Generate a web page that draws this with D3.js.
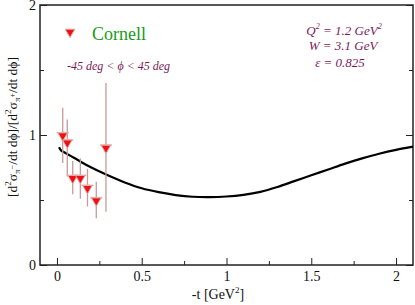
<!DOCTYPE html>
<html>
<head>
<meta charset="utf-8">
<script src="https://cdn.jsdelivr.net/npm/d3@7"></script>
<style>
  body { margin: 0; background: #fff; }
  svg text { font-family: "Liberation Serif", "Times New Roman", "DejaVu Serif", serif; }
</style>
</head>
<body>
<div id="chart"></div>
<script>
// Cornell data points (-t, ratio, error bar low, error bar high)
const pointT = [0.034, 0.061, 0.093, 0.138, 0.18, 0.232, 0.289];
const pointV = [0.995, 0.94, 0.667, 0.667, 0.59, 0.495, 0.90];
const pointLo = [0.785, 0.68, 0.545, 0.51, 0.45, 0.36, 0.41];
const pointHi = [1.21, 1.12, 0.80, 0.82, 0.74, 0.64, 1.40];

// model curve
const curveT = [0.012, 0.025, 0.05, 0.1, 0.15, 0.2, 0.3, 0.4, 0.5, 0.6, 0.7, 0.8, 0.9, 1.0,
                1.1, 1.2, 1.3, 1.4, 1.5, 1.6, 1.7, 1.8, 1.9, 2.0, 2.1];
const curveV = [0.905, 0.88, 0.862, 0.825, 0.787, 0.752, 0.69, 0.635, 0.59, 0.56, 0.538, 0.525, 0.522, 0.527,
                0.54, 0.563, 0.6, 0.645, 0.69, 0.735, 0.78, 0.82, 0.856, 0.886, 0.91];

const xMajor = [0, 0.5, 1, 1.5, 2];
const xMinor = [0.25, 0.75, 1.25, 1.75];
const yMajor = [0, 1, 2];
const yMinor = [0.5, 1.5];

const width = 415, height = 305;
const margin = { top: 5, right: 2, bottom: 40, left: 40 };
const w = width - margin.left - margin.right;
const h = height - margin.top - margin.bottom;

const serif = '"Liberation Serif", "Times New Roman", "DejaVu Serif", serif';

const svg = d3.select('#chart')
  .append('svg')
    .attr('width', width)
    .attr('height', height);

const g = svg.append('g')
    .attr('transform', `translate(${margin.left},${margin.top})`);

const x = d3.scaleLinear().domain([-0.1, 2.1]).range([0, w]);
const y = d3.scaleLinear().domain([0, 2]).range([h, 0]);

const axisColor = '#222';

// ticks point inward; left, right and bottom only
g.append('g')
    .attr('transform', `translate(0,${h})`)
    .call(d3.axisBottom(x).tickValues(xMajor).tickSize(-7).tickPadding(6).tickFormat(d => d))
    .call(a => a.select('.domain').remove());
g.append('g')
    .attr('transform', `translate(0,${h})`)
    .call(d3.axisBottom(x).tickValues(xMinor).tickSize(-4).tickFormat(''))
    .call(a => a.select('.domain').remove());

g.append('g')
    .call(d3.axisLeft(y).tickValues(yMajor).tickSize(-7).tickPadding(4).tickFormat(d => d))
    .call(a => a.select('.domain').remove());
g.append('g')
    .call(d3.axisLeft(y).tickValues(yMinor).tickSize(-4).tickFormat(''))
    .call(a => a.select('.domain').remove());

g.append('g')
    .attr('transform', `translate(${w},0)`)
    .call(d3.axisRight(y).tickValues(yMajor).tickSize(-7).tickFormat(''))
    .call(a => a.select('.domain').remove());
g.append('g')
    .attr('transform', `translate(${w},0)`)
    .call(d3.axisRight(y).tickValues(yMinor).tickSize(-4).tickFormat(''))
    .call(a => a.select('.domain').remove());

g.selectAll('g').attr('font-family', serif);
g.selectAll('.tick line').attr('stroke', axisColor).attr('stroke-width', 1);
g.selectAll('.tick text')
    .attr('font-family', serif)
    .attr('font-size', 14)
    .attr('fill', '#111');

// frame
g.append('rect')
    .attr('width', w)
    .attr('height', h)
    .attr('fill', 'none')
    .attr('stroke', axisColor)
    .attr('stroke-width', 1.5);

// model curve
const line = d3.line()
    .x(d => x(d[0]))
    .y(d => y(d[1]))
    .curve(d3.curveCatmullRom);

g.append('path')
    .datum(curveT.map((t, i) => [t, curveV[i]]))
    .attr('d', line)
    .attr('fill', 'none')
    .attr('stroke', '#000')
    .attr('stroke-width', 2.2);

// error bars + markers
const pts = pointT.map((t, i) => ({ t, v: pointV[i], lo: pointLo[i], hi: pointHi[i] }));
const barColor = '#c99a9a';

g.selectAll('.err')
  .data(pts)
  .enter()
  .append('line')
    .attr('x1', d => x(d.t))
    .attr('x2', d => x(d.t))
    .attr('y1', d => y(d.lo))
    .attr('y2', d => y(d.hi))
    .attr('stroke', barColor)
    .attr('stroke-width', 1.3);

const tri = d3.symbol().type(d3.symbolTriangle).size(40);

g.selectAll('.cap')
  .data(pts)
  .enter()
  .append('line')
    .attr('x1', d => x(d.t) - 6)
    .attr('x2', d => x(d.t) + 6)
    .attr('y1', d => y(d.v) - 3)
    .attr('y2', d => y(d.v) - 3)
    .attr('stroke', '#e0b0b0')
    .attr('stroke-width', 1.5);

g.selectAll('.pt')
  .data(pts)
  .enter()
  .append('path')
    .attr('d', tri)
    .attr('transform', d => `translate(${x(d.t)},${y(d.v)}) rotate(180)`)
    .attr('fill', '#ee1111')
    .attr('stroke', '#e8a8a8')
    .attr('stroke-width', 1);

// legend
svg.append('path')
    .attr('d', tri)
    .attr('transform', 'translate(70,32) rotate(180)')
    .attr('fill', '#ee1111')
    .attr('stroke', '#e8a8a8');

svg.append('text')
    .attr('x', 92)
    .attr('y', 40)
    .attr('fill', '#1a9a1a')
    .attr('font-family', serif)
    .attr('font-size', 18)
    .text('Cornell');

const purple = '#7a1a5c';

svg.append('text')
    .attr('x', 67)
    .attr('y', 70)
    .attr('fill', purple)
    .attr('font-family', serif)
    .attr('font-size', 12)
    .attr('font-style', 'italic')
    .text('-45 deg < \u03D5 < 45 deg');

// kinematics
const kin = svg.append('g')
    .attr('fill', purple)
    .attr('font-family', serif)
    .attr('font-size', 13)
    .attr('font-style', 'italic')
    .attr('text-anchor', 'middle');

const q2 = kin.append('text').attr('x', 344).attr('y', 35);
q2.append('tspan').text('Q');
q2.append('tspan').attr('dy', -6).attr('font-size', 8).text('2');
q2.append('tspan').attr('dy', 6).text(' = 1.2 GeV');
q2.append('tspan').attr('dy', -6).attr('font-size', 8).text('2');

kin.append('text').attr('x', 343).attr('y', 50).text('W = 3.1 GeV');
kin.append('text').attr('x', 340).attr('y', 67).text('\u03B5 = 0.825');

// x label
const xl = svg.append('text')
    .attr('x', 218)
    .attr('y', 299)
    .attr('text-anchor', 'middle')
    .attr('fill', '#111')
    .attr('font-family', serif)
    .attr('font-size', 14);
xl.append('tspan').text('-t [GeV');
xl.append('tspan').attr('dy', -6).attr('font-size', 9).text('2');
xl.append('tspan').attr('dy', 6).text(']');

// y label
const yl = svg.append('text')
    .attr('transform', 'translate(17,127) rotate(-90)')
    .attr('text-anchor', 'middle')
    .attr('fill', '#111')
    .attr('font-family', serif)
    .attr('font-size', 13.5);
yl.append('tspan').text('[d');
yl.append('tspan').attr('dy', -6).attr('font-size', 9).text('2');
yl.append('tspan').attr('dy', 6).text('\u03C3');
yl.append('tspan').attr('dy', 3).attr('font-size', 9).text('\u03C0');
yl.append('tspan').attr('dy', -5).attr('font-size', 8).text('\u2212');
yl.append('tspan').attr('dy', 2).text('/dt d\u03D5]/[d');
yl.append('tspan').attr('dy', -6).attr('font-size', 9).text('2');
yl.append('tspan').attr('dy', 6).text('\u03C3');
yl.append('tspan').attr('dy', 3).attr('font-size', 9).text('\u03C0');
yl.append('tspan').attr('dy', -5).attr('font-size', 8).text('+');
yl.append('tspan').attr('dy', 2).text('/dt d\u03D5]');
</script>
</body>
</html>
